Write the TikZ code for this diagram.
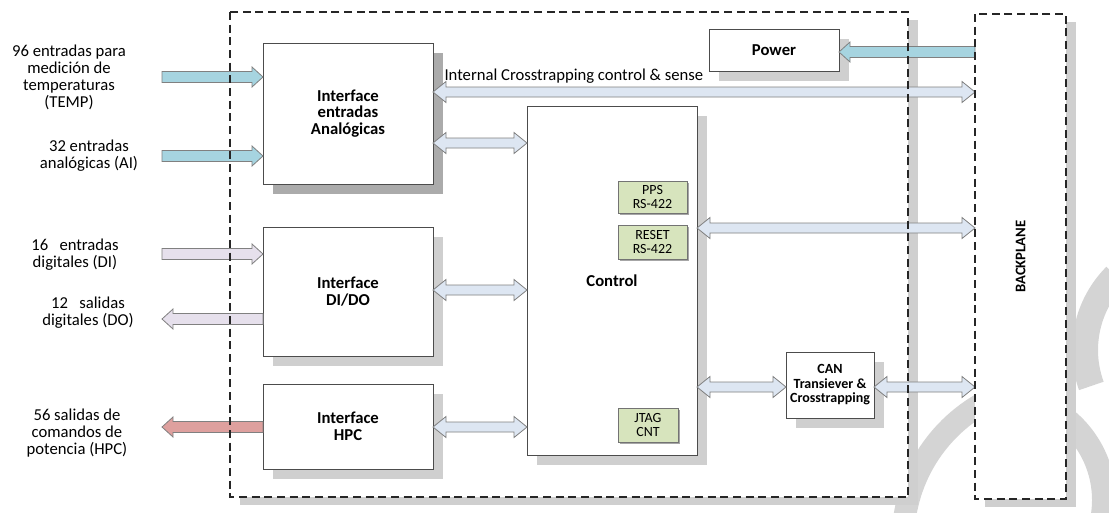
\documentclass[tikz,border=0pt]{standalone}
\usepackage{fontspec}
\setmainfont{Carlito}
\usetikzlibrary{calc,shadows}

\definecolor{tempblue}{RGB}{166,212,224}
\definecolor{dililac}{RGB}{230,224,236}
\definecolor{hpcred}{RGB}{222,160,158}
\definecolor{busblue}{RGB}{221,230,242}
\definecolor{chipgreen}{RGB}{215,228,189}
\definecolor{ringgray}{RGB}{212,212,212}

\tikzset{every picture/.style={line width=0.75pt}}
\tikzset{
  board/.style={fill=white, inner sep=0pt, outer sep=0pt, minimum height=363.75pt,
    general shadow={fill=black!19, shadow xshift=7.5pt, shadow yshift=-6pt}},
  dashframe/.style={draw=black!85, line width=0.9pt, dash pattern=on 6pt off 3.5pt},
  block/.style={draw=black!70, line width=0.6pt, fill=white, inner sep=0pt, outer sep=0pt,
    align=center, font=\fontsize{12.5}{12.5}\selectfont\bfseries,
    general shadow={fill=black!19, shadow xshift=7.5pt, shadow yshift=-7.5pt}},
  chip/.style={draw=black!55, line width=0.6pt, fill=chipgreen, inner sep=0pt, outer sep=0pt,
    align=center, font=\fontsize{10.5}{10.5}\selectfont,
    general shadow={fill=black!35, shadow xshift=1.2pt, shadow yshift=-1.2pt}},
  lbl/.style={align=center, inner sep=0.75pt, font=\fontsize{12.5}{12.8}\selectfont},
  arrowline/.style={draw=black!50, line width=0.6pt},
  ring/.style={draw=ringgray},
}

% one-headed block arrow: fill, tail, tip, direction (1 right, -1 left)
\newcommand{\onehead}[4]{%
  \filldraw[arrowline, fill=#1]
    ($(#2)+(0,-5.5)$) -- ($(#3)+(-11*#4,-5.5)$) -- ($(#3)+(-11*#4,-10)$) -- (#3)
    -- ($(#3)+(-11*#4,10)$) -- ($(#3)+(-11*#4,5.5)$) -- ($(#2)+(0,5.5)$) -- cycle;}
% two-headed block arrow, left end first
\newcommand{\twohead}[2]{%
  \filldraw[arrowline, fill=busblue]
    (#1) -- ($(#1)+(13,-10.5)$) -- ($(#1)+(13,-5)$) -- ($(#2)+(-13,-5)$)
    -- ($(#2)+(-13,-10.5)$) -- (#2) -- ($(#2)+(-13,10.5)$) -- ($(#2)+(-13,5)$)
    -- ($(#1)+(13,5)$) -- ($(#1)+(13,10.5)$) -- cycle;}

\begin{document}
\begin{tikzpicture}[x=0.75pt,y=0.75pt,yscale=-1,xscale=1]
\useasboundingbox (0,0) rectangle (1109,512);

% Background rings
\begin{scope}
\clip (0,0) rectangle (1109,512);
\draw[ring, line width=17pt] (1060,540) ++(185:157) arc[start angle=185, end angle=250, radius=157];
\draw[ring, line width=19.5pt] (1190,350) ++(225:105) arc[start angle=225, end angle=160, radius=105];
\draw[ring, line width=18pt] (1000,500) ++(-60:104) arc[start angle=-60, end angle=12, radius=104];
\end{scope}

% Board and backplane
\node[board, minimum width=508.5pt] (board) at (569,254.5) {};
\node[board, minimum width=68.25pt] (bp) at (1020.5,256.5) {};
\node[rotate=90, font=\fontsize{11}{11}\selectfont\bfseries] (bplbl) at (bp.center) {BACKPLANE};

% Blocks
\node[block, minimum width=127.5pt, minimum height=105.75pt,
  general shadow={fill=black!33, shadow xshift=7.5pt, shadow yshift=-7.5pt}] (ana) at (348,113.5) {Interface\\entradas\\Analógicas};
\node[block, minimum width=127.5pt, minimum height=96.75pt] (dido) at (348,291.5) {Interface\\DI/DO};
\node[block, minimum width=127.5pt, minimum height=63.75pt] (hpc) at (348,426.5) {Interface\\HPC};
\node[block, minimum width=127.5pt, minimum height=261.75pt] (ctrl) at (612,280.5) {Control};
\node[block, minimum width=97.5pt, minimum height=31.5pt] (power) at (774,50) {Power};
\node[block, minimum width=66pt, minimum height=49.5pt, font=\fontsize{10.5}{10.9}\selectfont\bfseries] (can) at (830,385) {CAN\\Transiever \&\\Crosstrapping};

% Chips inside control
\node[chip, minimum width=51.75pt, minimum height=24pt] (pps) at (652.5,197) {PPS\\RS-422};
\node[chip, minimum width=51.75pt, minimum height=25.5pt] (reset) at (652.5,242) {RESET\\RS-422};
\node[chip, minimum width=45pt, minimum height=25.5pt] (jtag) at (648,425) {JTAG\\CNT};

% Text Node
\node[lbl] (templbl) at (69,77) {96 entradas para\\medición de\\temperaturas\\(TEMP)};
\node[lbl] (ailbl) at (89,156) {32 entradas\\analógicas (AI)};
\node[lbl] (dilbl) at (75,255) {16\ \ \ entradas\\digitales (DI)};
\node[lbl] (dolbl) at (88,313) {12\ \ \ salidas\\digitales (DO)};
\node[lbl] (hpclbl) at (77,433) {56 salidas de\\comandos de\\potencia (HPC)};
\node[lbl, anchor=west] (buslbl) at (443,76) {Internal Crosstrapping control \& sense};

% Free ends and arrow rows
\coordinate (tempin) at (162,77);
\coordinate (aiin) at (162,156);
\coordinate (diin) at (162,254);
\coordinate (doout) at (162,319);
\coordinate (hpcout) at (162,427);
\coordinate (rowpwr) at (0,52);
\coordinate (rowbus) at (0,92);
\coordinate (rowana) at (0,143);
\coordinate (rowbp) at (0,228);
\coordinate (rowdido) at (0,290);
\coordinate (rowcan) at (0,387);
\coordinate (rowhpc) at (0,427);

% Inputs and outputs
\onehead{tempblue}{tempin}{ana.west|-tempin}{1}
\onehead{tempblue}{aiin}{ana.west|-aiin}{1}
\onehead{dililac}{diin}{dido.west|-diin}{1}
\onehead{dililac}{dido.west|-doout}{doout}{-1}
\onehead{hpcred}{hpc.west|-hpcout}{hpcout}{-1}
\onehead{tempblue}{bp.west|-rowpwr}{power.east|-rowpwr}{-1}

% Internal buses
\twohead{ana.east|-rowbus}{bp.west|-rowbus}
\twohead{ana.east|-rowana}{ctrl.west|-rowana}
\twohead{dido.east|-rowdido}{ctrl.west|-rowdido}
\twohead{hpc.east|-rowhpc}{ctrl.west|-rowhpc}
\twohead{ctrl.east|-rowbp}{bp.west|-rowbp}
\twohead{ctrl.east|-rowcan}{can.west|-rowcan}
\twohead{can.east|-rowcan}{bp.west|-rowcan}

% Dashed borders over the arrows
\draw[dashframe] (board.north west) rectangle (board.south east);
\draw[dashframe] (bp.north west) rectangle (bp.south east);

\end{tikzpicture}
\end{document}
